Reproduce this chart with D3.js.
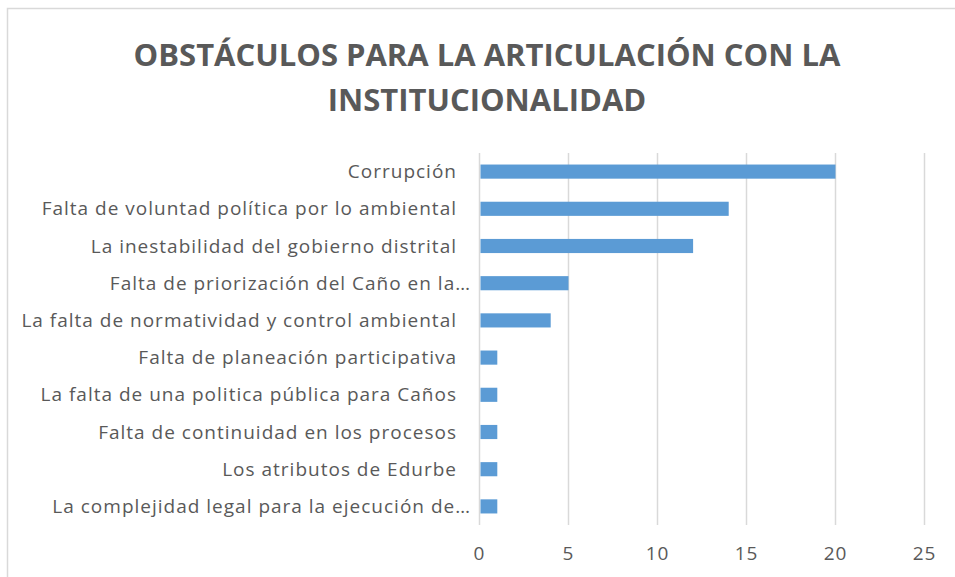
<!DOCTYPE html>
<html lang="es">
<head>
<meta charset="UTF-8">
<title>Obstáculos para la articulación con la institucionalidad</title>
<script src="https://d3js.org/d3.v7.min.js"></script>
<style>
  body { margin: 0; background: #fff; }
  text { font-family: "Open Sans", "Noto Sans", sans-serif; fill: #595959; }
</style>
</head>
<body>
<div id="chart"></div>
<script>
// data
const categories = [
  "Corrupción",
  "Falta de voluntad política por lo ambiental",
  "La inestabilidad del gobierno distrital",
  "Falta de priorización del Caño en la…",
  "La falta de normatividad y control ambiental",
  "Falta de planeación participativa",
  "La falta de una politica pública para Caños",
  "Falta de continuidad en los procesos",
  "Los atributos de Edurbe",
  "La complejidad legal para la ejecución de…"
];
const values = [20, 14, 12, 5, 4, 1, 1, 1, 1, 1];
const xTicks = [0, 5, 10, 15, 20, 25];
const titleLines = ["OBSTÁCULOS PARA LA ARTICULACIÓN CON LA", "INSTITUCIONALIDAD"];

const W = 955, H = 577;
const plot = {left: 479.5, right: 924.5, top: 153, bottom: 525};

const svg = d3.select("#chart").append("svg")
    .attr("width", W)
    .attr("height", H);

// chart border
svg.append("rect")
    .attr("x", 7.5).attr("y", 8.5)
    .attr("width", 960).attr("height", 600)
    .attr("fill", "none")
    .attr("stroke", "#d9d9d9")
    .attr("stroke-width", 1.5);

// title
svg.append("g").selectAll("text")
    .data(titleLines)
    .join("text")
    .attr("x", 487)
    .attr("y", (d, i) => 66 + i * 45)
    .attr("text-anchor", "middle")
    .style("font-size", "31px")
    .style("font-weight", "bold")
    .text(d => d);

const x = d3.scaleLinear().domain([0, 25]).range([plot.left, plot.right]);
const y = d3.scaleBand().domain(categories).range([plot.top, plot.bottom]).paddingInner(0.62).paddingOuter(0.31);

// gridlines
svg.append("g").selectAll("line")
    .data(xTicks)
    .join("line")
    .attr("x1", d => x(d)).attr("x2", d => x(d))
    .attr("y1", plot.top).attr("y2", plot.bottom)
    .attr("stroke", "#d9d9d9")
    .attr("stroke-width", 1.5);

// bars
svg.append("g").selectAll("rect")
    .data(values)
    .join("rect")
    .attr("x", x(0) + 1)
    .attr("y", (d, i) => y(categories[i]))
    .attr("width", d => x(d) - x(0) - 1)
    .attr("height", y.bandwidth())
    .attr("fill", "#5b9bd5");

// category labels (truncated ones overhang a bit, like Excel does)
svg.append("g").selectAll("text")
    .data(categories)
    .join("text")
    .attr("x", d => d.endsWith("…") ? 471 : 457)
    .attr("y", d => y(d) + y.bandwidth() / 2)
    .attr("dy", "0.35em")
    .attr("text-anchor", "end")
    .style("font-size", "19px")
    .style("letter-spacing", "1px")
    .text(d => d);

// x tick labels
svg.append("g").selectAll("text")
    .data(xTicks)
    .join("text")
    .attr("x", d => x(d))
    .attr("y", 553)
    .attr("dy", "0.35em")
    .attr("text-anchor", "middle")
    .style("font-size", "19px")
    .style("letter-spacing", "1px")
    .text(d => d);
</script>
</body>
</html>
